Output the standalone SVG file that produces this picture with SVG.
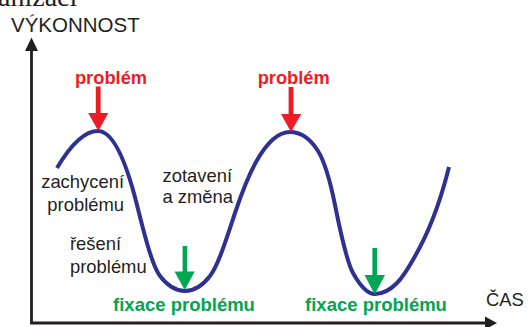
<svg xmlns="http://www.w3.org/2000/svg" width="529" height="327" viewBox="0 0 529 327">
<style>
.t{font-family:"Liberation Sans",Arial,sans-serif;fill:#231f20;font-size:18.4px}
.ax{font-size:20.5px}
.red{fill:#ed1c24;font-weight:bold;font-size:18.3px}
.grn{fill:#00a651;font-weight:bold;font-size:18.5px}
.axis{fill:none;stroke:#231f20;stroke-width:2.8}
.head{fill:#231f20}
</style>
<rect width="529" height="327" fill="#ffffff"/>
<text x="-2" y="6" font-family="'Liberation Serif','Times New Roman',serif" font-size="28" fill="#231f20">anizaci</text>
<g id="axes">
  <path class="axis" d="M31.5,50 V323 H486"/>
  <polygon class="head" points="25,51 38,51 31.5,37.5"/>
  <polygon class="head" points="485,316.5 485,329.5 497,323"/>
  <text class="t ax" x="11" y="32">VÝKONNOST</text>
  <text class="t" x="486" y="306" font-size="18">ČAS</text>
</g>
<g id="curve">
  <path fill="none" stroke="#2e3192" stroke-width="4" d="M57,168 C70.67,144.8 84.33,131 98,131 C111,131 124,153 137,205 C144.67,235.7 152.33,266 160,276 C168.33,286.8 176.67,291 185,291 C193.33,291 201.67,286.8 210,276 C218.33,265.2 226.67,238 235,213 C242,192 249,174.6 256,162 C267.33,141.6 278.67,132 290,132 C299.33,132 308.67,136.1 318,151 C323.67,160.1 329.33,176.7 335,205 C341,235 347,262.2 353,273 C360.33,286.2 367.67,294 375,294 C382.33,294 389.67,290.3 397,283 C404.67,275.3 412.33,261.6 420,247 C429.67,228.6 439.33,205.7 449,167"/>
</g>
<g id="problem1">
  <text class="t red" x="111" y="84" text-anchor="middle">problém</text>
  <rect x="95.8" y="86.5" width="4.8" height="28" fill="#ed1c24"/>
  <polygon points="88.2,113 108.4,113 98.3,131" fill="#ed1c24"/>
</g>
<g id="problem2">
  <text class="t red" x="293.7" y="84" text-anchor="middle">problém</text>
  <rect x="288.6" y="87" width="4.8" height="28" fill="#ed1c24"/>
  <polygon points="281,114 301.2,114 291,132" fill="#ed1c24"/>
</g>
<g id="fix1">
  <rect x="182.6" y="246" width="4.6" height="27" fill="#00a651"/>
  <polygon points="174.5,271.5 194.7,271.5 184.7,290" fill="#00a651"/>
  <text class="t grn" x="184" y="311" text-anchor="middle">fixace problému</text>
</g>
<g id="fix2">
  <rect x="372.4" y="248" width="4.6" height="28" fill="#00a651"/>
  <polygon points="364.5,275 385,275 374.7,294.5" fill="#00a651"/>
  <text class="t grn" x="376" y="311" text-anchor="middle">fixace problému</text>
</g>
<g id="zachyceni">
  <text class="t" x="124" y="188" text-anchor="end">zachycení</text>
  <text class="t" x="124" y="211" text-anchor="end">problému</text>
</g>
<g id="reseni">
  <text class="t" x="70" y="250">řešení</text>
  <text class="t" x="70" y="273">problému</text>
</g>
<g id="zotaveni">
  <text class="t" x="162.5" y="182">zotavení</text>
  <text class="t" x="162.5" y="203">a změna</text>
</g>
</svg>
